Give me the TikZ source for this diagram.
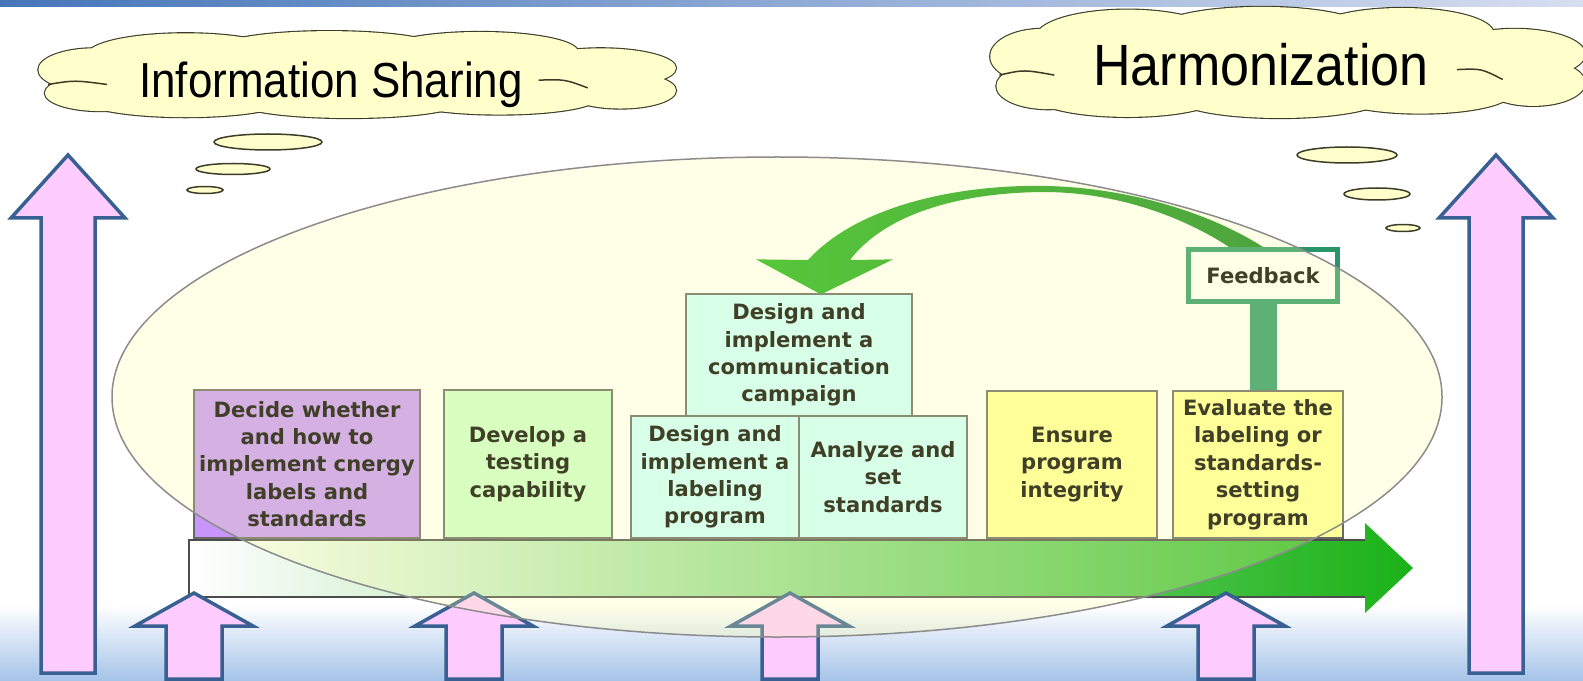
\documentclass[tikz,border=0pt]{standalone}
\usepackage{fontspec}
\setmainfont{Liberation Sans}
\newfontfamily\boxfont{DejaVu Sans}
\usetikzlibrary{calc}

\definecolor{pinkfill}{RGB}{255,204,255}
\definecolor{arrowblue}{RGB}{56,96,146}
\definecolor{cloudfill}{RGB}{255,255,204}
\definecolor{cloudline}{RGB}{60,60,40}
\definecolor{lilac}{RGB}{200,150,250}
\definecolor{mint}{RGB}{204,255,204}
\definecolor{aqua}{RGB}{204,255,255}
\definecolor{lemon}{RGB}{255,255,153}
\definecolor{fbgreen}{RGB}{40,150,105}
\definecolor{barmid}{RGB}{212,234,210}
\definecolor{bargreen}{RGB}{27,178,24}
\definecolor{loopleft}{RGB}{30,180,25}
\definecolor{loopright}{RGB}{20,135,30}
\definecolor{ovalfill}{RGB}{255,255,160}
\definecolor{topblue}{RGB}{70,118,185}
\definecolor{topfade}{RGB}{215,222,240}
\definecolor{bottomblue}{RGB}{165,195,232}

\def\u{0.2mm}

\tikzset{
  stage/.style={draw=black!60, line width=0.25mm, align=center, inner sep=0pt,
    text=black, font={\boxfont\bfseries\fontsize{12}{15.6}\selectfont}},
  uparrow/.style={fill=pinkfill, draw=arrowblue, line width=0.7mm, line join=miter},
  bubble/.style={fill=cloudfill, draw=cloudline, line width=0.3mm},
  pics/puffcloud/.style={code={
    % puffs: x/y/x radius/y radius, the cloud spans -1..1 both ways
    \foreach \px/\py/\rx/\ry in {-0.78/-0.12/0.17/0.50, -0.76/0.42/0.17/0.42,
        -0.50/-0.47/0.30/0.50, -0.06/-0.62/0.34/0.40, 0.40/-0.54/0.30/0.46,
        0.77/-0.16/0.23/0.46, 0.83/0.36/0.17/0.42, -0.50/0.58/0.31/0.40,
        0.00/0.64/0.34/0.36, 0.46/0.54/0.30/0.38}
      \draw[cloudline, line width=0.45mm] (\px,\py) ellipse [x radius=\rx, y radius=\ry];
    \foreach \px/\py/\rx/\ry in {-0.78/-0.12/0.17/0.50, -0.76/0.42/0.17/0.42,
        -0.50/-0.47/0.30/0.50, -0.06/-0.62/0.34/0.40, 0.40/-0.54/0.30/0.46,
        0.77/-0.16/0.23/0.46, 0.83/0.36/0.17/0.42, -0.50/0.58/0.31/0.40,
        0.00/0.64/0.34/0.36, 0.46/0.54/0.30/0.38, 0/0/0.85/0.75}
      \fill[cloudfill] (\px,\py) ellipse [x radius=\rx, y radius=\ry];
    \draw[cloudline, line width=0.3mm] (-0.92,0.22) .. controls (-0.84,0.12) .. (-0.74,0.22);
    \draw[cloudline, line width=0.3mm] (0.58,0.12) .. controls (0.66,0.1) .. (0.73,0.3);
  }}
}

\begin{document}
\begin{tikzpicture}[x=0.2mm, y=-0.2mm]
\clip (0,0) rectangle (1583,681);

% backdrop
\shade[top color=white, bottom color=bottomblue] (0,605) rectangle (1583,681);
\shade[left color=topblue, right color=topfade] (0,0) rectangle (1583,7);

% thought clouds
\pic[xscale=327, yscale=43] (sharecloud) at (349,75) {puffcloud};
\node[anchor=base, font=\fontsize{25}{30}\selectfont] (sharetext) at (331,98)
  {\scalebox{1}[1.12]{Information Sharing}};
\draw[bubble] (268,142) ellipse [x radius=54, y radius=8];
\draw[bubble] (233,169) ellipse [x radius=37, y radius=5.5];
\draw[bubble] (205,190) ellipse [x radius=18, y radius=3.5];

\pic[xscale=305, yscale=55] (harmcloud) at (1280,63) {puffcloud};
\node[anchor=base, font=\fontsize{29.6}{34}\selectfont] (harmtext) at (1261,86)
  {\scalebox{1}[1.12]{Harmonization}};
\draw[bubble] (1347,155) ellipse [x radius=50, y radius=8];
\draw[bubble] (1377,194) ellipse [x radius=33, y radius=6];
\draw[bubble] (1403,228) ellipse [x radius=17, y radius=3.5];

% tall arrows
\foreach \cx in {68,1496}
  \draw[uparrow] (\cx,155) -- ++(57,63) -- ++(-30,0) -- ++(0,455) -- ++(-54,0)
    -- ++(0,-455) -- ++(-30,0) -- cycle;

% time line
\shade[left color=white, middle color=barmid, right color=bargreen]
  (189,540) -- (1365,540) -- (1365,523) -- (1413,568) -- (1365,613) -- (1365,597)
  -- (189,597) -- cycle;
\draw[black!70, line width=0.3mm] (1365,540) -- (189,540) -- (189,597) -- (1365,597);

% stages
\node[stage, fill=lilac, minimum width=226*\u, minimum height=148*\u] (decide) at (307,464)
  {Decide whether\\and how to\\implement cnergy\\labels and\\standards};
\node[stage, fill=mint, minimum width=168*\u, minimum height=148*\u] (develop) at (528,464)
  {Develop a\\testing\\capability};
\node[stage, fill=aqua, minimum width=168*\u, minimum height=122*\u] (labeling) at (715,477)
  {Design and\\implement a\\labeling\\program};
\node[stage, fill=aqua, minimum width=168*\u, minimum height=122*\u] (analyze) at (883,477)
  {Analyze and\\set\\standards};
\node[stage, fill=aqua, minimum width=226*\u, minimum height=122*\u] (comm) at (799,355)
  {Design and\\implement a\\communication\\campaign};
\node[stage, fill=lemon, minimum width=170*\u, minimum height=147*\u] (ensure) at (1072,464.5)
  {Ensure\\program\\integrity};
\node[stage, fill=lemon, minimum width=170*\u, minimum height=147*\u] (evaluate) at (1258,464.5)
  {Evaluate the\\labeling or\\standards-\\setting\\program};

% feedback loop
\node[stage, draw=fbgreen, line width=1mm, fill=white, minimum width=149*\u,
  minimum height=52*\u] (feedback) at (1263,275.5) {Feedback};
\draw[fbgreen, line width=27*\u] (feedback.south) -- (feedback.south |- evaluate.north);
\path (comm.north) ++(22,1) coordinate (looptip);
\shade[left color=loopleft, right color=loopright]
  (feedback.north) .. controls (1210,213) and (1130,188) .. (1047,186)
  .. controls (960,184) and (858,205) .. (808,260) -- ($(looptip)+(-65,-35)$)
  -- (looptip) -- ($(looptip)+(72,-35)$) -- (850,260)
  .. controls (885,214) and (960,192) .. (1047,192)
  .. controls (1120,193) and (1185,218) .. ($(feedback.north)+(-34,0)$) -- cycle;

% inputs
\foreach \cx in {194,474,790,1226}
  \draw[uparrow] (\cx,593) -- ++(59,33) -- ++(-31,0) -- ++(0,53) -- ++(-56,0)
    -- ++(0,-53) -- ++(-31,0) -- cycle;

% oval wash
\draw[fill=ovalfill, fill opacity=0.25, draw=black!45, line width=0.3mm]
  (777,397) ellipse [x radius=665, y radius=240];

\end{tikzpicture}
\end{document}
